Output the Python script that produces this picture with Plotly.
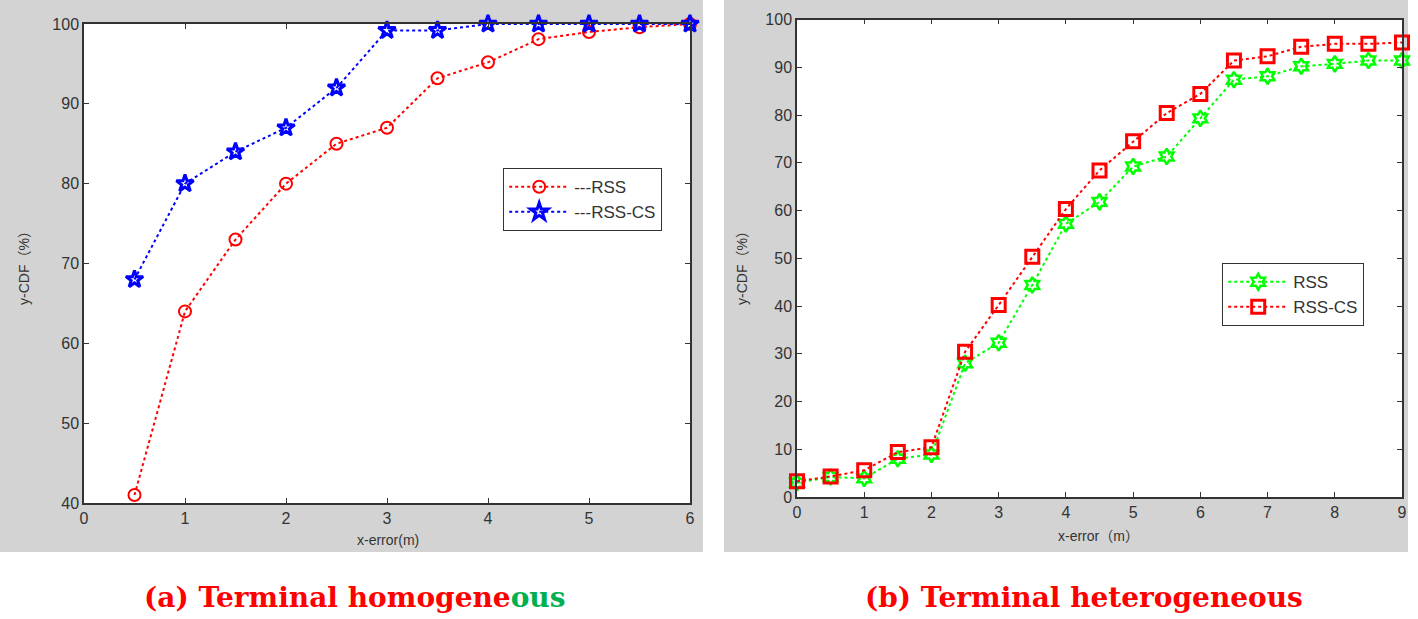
import plotly.graph_objects as go

W, H = 1418, 619

# ---- data: panel (a) terminal homogeneous ----
xa = [0.5, 1, 1.5, 2, 2.5, 3, 3.5, 4, 4.5, 5, 5.5, 6]
rss_a = [41, 64, 73, 80, 85, 87, 93.2, 95.2, 98.1, 99.0, 99.6, 100]
rsscs_a = [68, 80, 84, 87, 92, 99.2, 99.2, 100, 100, 100, 100, 100]

# ---- data: panel (b) terminal heterogeneous ----
xb = [0, 0.5, 1, 1.5, 2, 2.5, 3, 3.5, 4, 4.5, 5, 5.5, 6, 6.5, 7, 7.5, 8, 8.5, 9]
rss_b = [3, 4.2, 3.9, 8, 8.9, 28, 32.3, 44.4, 57.2, 61.8, 69.2, 71.3, 79.3, 87.4, 88.1, 90.2, 90.7, 91.4, 91.4]
rsscs_b = [3.3, 4.3, 5.6, 9.4, 10.4, 30.4, 40.2, 50.3, 60.3, 68.4, 74.5, 80.4, 84.4, 91.4, 92.3, 94.3, 94.9, 94.9, 95.2]

xticks_a = [0, 1, 2, 3, 4, 5, 6]
yticks_a = [40, 50, 60, 70, 80, 90, 100]
xticks_b = [0, 1, 2, 3, 4, 5, 6, 7, 8, 9]
yticks_b = [0, 10, 20, 30, 40, 50, 60, 70, 80, 90, 100]

def px(x):
    return x / W

def py(y):
    return 1 - y / H

fig = go.Figure()

fig.add_trace(go.Scatter(x=xa, y=rss_a, name="---RSS", mode="lines+markers",
                         line=dict(color="#ff0000", width=2, dash="dot"),
                         marker=dict(symbol="circle-open", size=12, color="#ff0000", line=dict(width=2)),
                         xaxis="x", yaxis="y", legend="legend", cliponaxis=False))
fig.add_trace(go.Scatter(x=xa, y=rsscs_a, name="---RSS-CS", mode="lines+markers",
                         line=dict(color="#0000ff", width=2, dash="dot"),
                         marker=dict(symbol="star-open", size=13, color="#0000ff", line=dict(width=3)),
                         xaxis="x", yaxis="y", legend="legend", cliponaxis=False))
fig.add_trace(go.Scatter(x=xb, y=rss_b, name="RSS", mode="lines+markers",
                         line=dict(color="#00ff00", width=2, dash="dot"),
                         marker=dict(symbol="hexagram-open", size=12, color="#00ff00", line=dict(width=2.5)),
                         xaxis="x2", yaxis="y2", legend="legend2", cliponaxis=False))
fig.add_trace(go.Scatter(x=xb, y=rsscs_b, name="RSS-CS", mode="lines+markers",
                         line=dict(color="#ff0000", width=2, dash="dot"),
                         marker=dict(symbol="square-open", size=13, color="#ff0000", line=dict(width=3)),
                         xaxis="x2", yaxis="y2", legend="legend2", cliponaxis=False))

tickfont = dict(family="Liberation Sans, Arial", size=16, color="#333333")
axcommon = dict(showline=True, linecolor="#333333", linewidth=1.5, mirror="ticks",
                ticks="inside", ticklen=5, tickwidth=1.2, tickcolor="#333333",
                showgrid=False, zeroline=False, tickfont=tickfont, fixedrange=True,
                automargin=False)

gray = "#d3d3d3"
shapes = [
    dict(type="rect", xref="paper", yref="paper", x0=0, x1=px(703), y0=py(552), y1=1,
         fillcolor=gray, line=dict(width=0), layer="below"),
    dict(type="rect", xref="paper", yref="paper", x0=px(724), x1=px(1408), y0=py(552), y1=1,
         fillcolor=gray, line=dict(width=0), layer="below"),
    dict(type="rect", xref="paper", yref="paper", x0=px(84), x1=px(690), y0=py(503), y1=py(24),
         fillcolor="white", line=dict(width=0), layer="below"),
    dict(type="rect", xref="paper", yref="paper", x0=px(797), x1=px(1402), y0=py(497), y1=py(19.5),
         fillcolor="white", line=dict(width=0), layer="below"),
]

lblfont = dict(family="Liberation Sans, Noto Sans CJK SC, Arial", size=14, color="#333333")
capfont = dict(family="DejaVu Serif", size=28, color="#ff0000")
annotations = [
    dict(text="x-error(m)", x=px(388), y=py(540), xref="paper", yref="paper", showarrow=False,
         font=lblfont, xanchor="center", yanchor="middle"),
    dict(text="y-CDF（%）", x=px(24), y=py(265), xref="paper", yref="paper", showarrow=False,
         font=lblfont, textangle=-90, xanchor="center", yanchor="middle"),
    dict(text="x-error（m）", x=px(1098), y=py(536), xref="paper", yref="paper", showarrow=False,
         font=lblfont, xanchor="center", yanchor="middle"),
    dict(text="y-CDF（%）", x=px(742), y=py(265), xref="paper", yref="paper", showarrow=False,
         font=lblfont, textangle=-90, xanchor="center", yanchor="middle"),
    dict(text="<b>(a) Terminal homogene<span style='color:#00b050'>ous</span></b>",
         x=px(354), y=py(597), xref="paper", yref="paper", showarrow=False,
         font=capfont, xanchor="center", yanchor="middle"),
    dict(text="<b>(b) Terminal heterogeneous</b>",
         x=px(1084), y=py(597), xref="paper", yref="paper", showarrow=False,
         font=capfont, xanchor="center", yanchor="middle"),
]

legfont = dict(family="Liberation Sans, Arial", size=17, color="#333333")
fig.update_layout(
    template="none",
    width=W, height=H, autosize=False,
    margin=dict(l=0, r=0, t=0, b=0, pad=0, autoexpand=False),
    paper_bgcolor="white", plot_bgcolor="rgba(0,0,0,0)",
    showlegend=True,
    xaxis=dict(domain=[px(84), px(690)], range=[0, 6], tickvals=xticks_a, anchor="y", **axcommon),
    yaxis=dict(domain=[py(503), py(24)], range=[40, 100], tickvals=yticks_a, anchor="x", **axcommon),
    xaxis2=dict(domain=[px(797), px(1402)], range=[0, 9], tickvals=xticks_b, anchor="y2", **axcommon),
    yaxis2=dict(domain=[py(497), py(19.5)], range=[0, 100], tickvals=yticks_b, anchor="x2", **axcommon),
    legend=dict(x=px(503), y=py(168), xanchor="left", yanchor="top", bgcolor="white",
                bordercolor="#333333", borderwidth=1.2, font=legfont, itemwidth=60,
                tracegroupgap=0),
    legend2=dict(x=px(1222), y=py(263), xanchor="left", yanchor="top", bgcolor="white",
                 bordercolor="#333333", borderwidth=1.2, font=legfont, itemwidth=60,
                 tracegroupgap=0),
    shapes=shapes,
    annotations=annotations,
)

post = (
    "document.documentElement.style.margin='0';"
    "document.documentElement.style.overflow='hidden';"
    "document.body.style.margin='0';"
    "document.body.style.overflow='hidden';"
    "var gd=document.getElementById('{plot_id}');"
    "gd.style.position='fixed';gd.style.left='0px';gd.style.top='0px';"
)

fig.write_html("out.html", config={"displayModeBar": False}, post_script=post)
